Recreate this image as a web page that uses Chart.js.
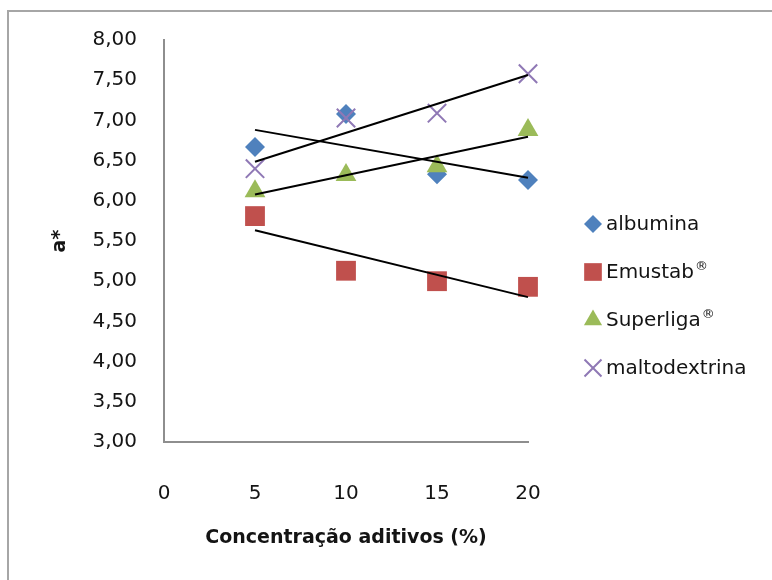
<!DOCTYPE html>
<html>
<head>
<meta charset="utf-8">
<script src="https://cdn.jsdelivr.net/npm/chart.js@4/dist/chart.umd.min.js"></script>
<style>
  html, body { margin: 0; padding: 0; background: #fff; }
  #wrap { width: 772px; height: 580px; position: relative; }
</style>
</head>
<body>
<div id="wrap"><canvas id="c" width="772" height="580"></canvas></div>
<script>
// Additive concentration (%) and measured a* colour coordinate per additive
const concentracao = [5, 10, 15, 20];
const albumina = [6.67, 7.08, 6.33, 6.26];
const emustab = [5.81, 5.13, 5.00, 4.93];
const superliga = [6.12, 6.32, 6.43, 6.88];
const maltodextrina = [6.40, 7.03, 7.09, 7.58];

const seriesNames = ['albumina', 'Emustab®', 'Superliga®', 'maltodextrina'];
const xTicks = [0, 5, 10, 15, 20];
const yMin = 3, yMax = 8, yStep = 0.5;

const FONT = 'DejaVu Sans';
const TEXT = '#141414';
const AXIS = '#8e8e8e';

const styles = [
  { pointStyle: 'rectRot', radius: 10, color: '#4f81bd', lw: 0, legendR: 9 },
  { pointStyle: 'rect', radius: 14, color: '#c0504d', lw: 0, legendR: 12.5 },
  { pointStyle: 'triangle', radius: 12, color: '#9bbb59', lw: 0, legendR: 10.5 },
  { pointStyle: 'crossRot', radius: 13, color: '#8f78b5', lw: 2, legendR: 12 }
];
const values = [albumina, emustab, superliga, maltodextrina];

// least-squares linear trend over the measured points
function trend(xs, ys) {
  const n = xs.length;
  const mx = xs.reduce((a, b) => a + b, 0) / n;
  const my = ys.reduce((a, b) => a + b, 0) / n;
  let sxy = 0, sxx = 0;
  for (let i = 0; i < n; i++) { sxy += (xs[i] - mx) * (ys[i] - my); sxx += (xs[i] - mx) ** 2; }
  const b = sxy / sxx, a = my - b * mx;
  const x0 = xs[0], x1 = xs[n - 1];
  return [{ x: x0, y: a + b * x0 }, { x: x1, y: a + b * x1 }];
}

const datasets = [];
values.forEach((vals, i) => {
  const s = styles[i];
  datasets.push({
    type: 'scatter',
    label: seriesNames[i],
    data: concentracao.map((x, k) => ({ x, y: vals[k] })),
    pointStyle: s.pointStyle,
    pointRadius: s.radius,
    pointHoverRadius: s.radius,
    backgroundColor: s.color,
    borderColor: s.color,
    pointBorderWidth: s.lw,
    showLine: false,
    clip: false,
    order: 4 - i
  });
});
values.forEach((vals, i) => {
  datasets.push({
    type: 'line',
    label: 'trend-' + i,
    data: trend(concentracao, vals),
    borderColor: '#000',
    borderWidth: 2,
    pointRadius: 0,
    fill: false,
    clip: false,
    order: 0
  });
});

const framePlugin = {
  id: 'frame',
  beforeDraw(chart) {
    const ctx = chart.ctx;
    ctx.save();
    ctx.fillStyle = '#fff';
    ctx.fillRect(0, 0, chart.width, chart.height);
    ctx.strokeStyle = '#a6a6a6';
    ctx.lineWidth = 2;
    ctx.strokeRect(8, 11, chart.width + 20, chart.height + 20);
    ctx.restore();
  },
  afterDraw(chart) {
    // legend to the right of the plot; a trailing ® is set as a small superscript
    const ctx = chart.ctx;
    const rows = [224, 272, 320, 368];
    ctx.save();
    ctx.textBaseline = 'middle';
    ctx.textAlign = 'left';
    styles.forEach((s, i) => {
      ctx.fillStyle = s.color;
      ctx.strokeStyle = s.color;
      ctx.lineWidth = s.lw;
      Chart.helpers.drawPoint(ctx, { pointStyle: s.pointStyle, radius: s.legendR, rotation: 0, borderWidth: s.lw }, 593, rows[i]);
      ctx.fillStyle = TEXT;
      const name = seriesNames[i];
      const hasMark = name.endsWith('®');
      const base = hasMark ? name.slice(0, -1) : name;
      ctx.font = '20px "' + FONT + '"';
      ctx.fillText(base, 606, rows[i] + 1);
      if (hasMark) {
        const w = ctx.measureText(base).width;
        ctx.font = '13px "' + FONT + '"';
        ctx.fillText('®', 606 + w + 1, rows[i] - 5);
      }
    });
    ctx.restore();
  }
};

new Chart(document.getElementById('c'), {
  data: { datasets },
  plugins: [framePlugin],
  options: {
    responsive: false,
    animation: false,
    layout: { padding: { left: 0, right: 244, top: 40, bottom: 0 } },
    plugins: { legend: { display: false }, tooltip: { enabled: false } },
    scales: {
      x: {
        type: 'linear',
        min: 0, max: 20,
        afterBuildTicks: (scale) => { scale.ticks = xTicks.map(v => ({ value: v })); },
        afterFit: (scale) => { scale.height = 138; },
        grid: { display: false, drawTicks: false },
        border: { display: true, color: AXIS, width: 2 },
        ticks: { color: TEXT, font: { family: FONT, size: 20 }, padding: 40, maxRotation: 0 },
        title: {
          display: true,
          text: 'Concentração aditivos (%)',
          color: TEXT,
          font: { family: FONT, size: 19, weight: 'bold' },
          padding: { top: 0, bottom: 31 }
        }
      },
      y: {
        type: 'linear',
        min: yMin, max: yMax,
        ticks: {
          stepSize: yStep,
          color: TEXT,
          font: { family: FONT, size: 20 },
          padding: 27,
          callback: (v) => v.toFixed(2).replace('.', ',')
        },
        afterFit: (scale) => { scale.width = 164; },
        grid: { display: false, drawTicks: false },
        border: { display: true, color: AXIS, width: 2 },
        title: {
          display: true,
          text: 'a*',
          color: TEXT,
          font: { family: FONT, size: 19, weight: 'bold' },
          padding: { top: 49, bottom: 0 }
        }
      }
    }
  }
});
</script>
</body>
</html>
